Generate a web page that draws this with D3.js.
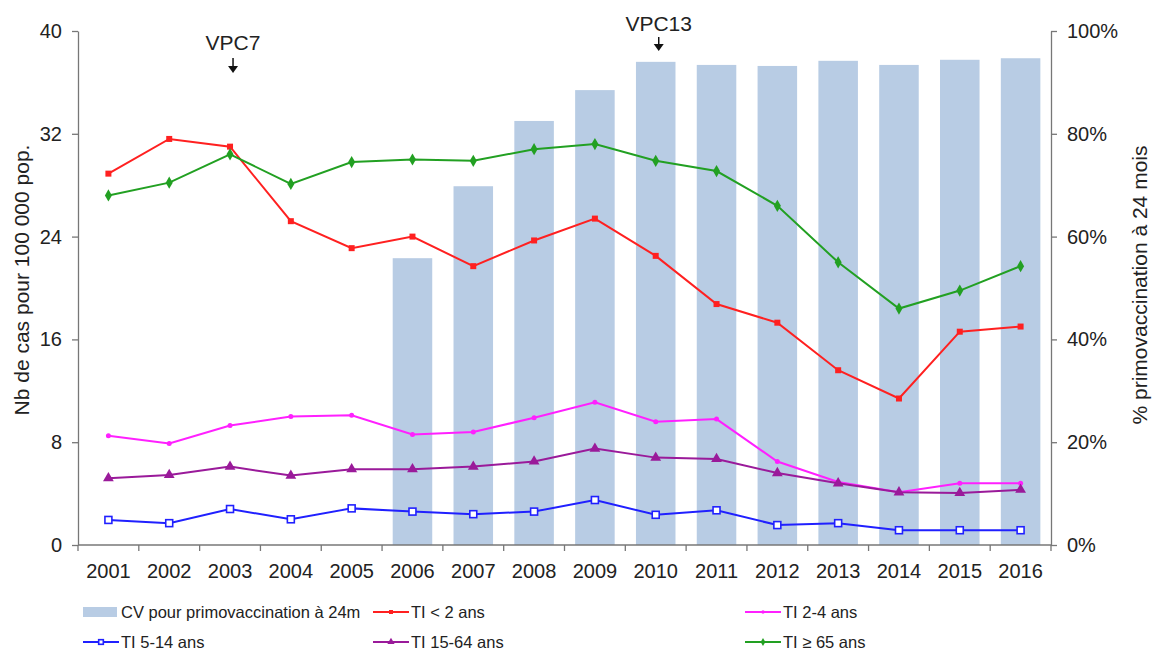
<!DOCTYPE html>
<meta charset="utf-8">
<style>
    body { margin: 0; background: #fff; }
    svg { display: block; font-family: "Liberation Sans", Arial, sans-serif; }
</style>

<script src="https://d3js.org/d3.v7.min.js"></script>

<svg id="chart" width="1156" height="650"></svg>

<script>

// Data

var years = ['2001','2002','2003','2004','2005','2006','2007','2008',
             '2009','2010','2011','2012','2013','2014','2015','2016'];

// vaccine coverage (%), no bar before 2006
var coverage = [null, null, null, null, null, 55.8, 69.8, 82.5,
                88.5, 94.0, 93.4, 93.2, 94.2, 93.4, 94.4, 94.7];

var tiUnder2 = [28.9, 31.6, 31.0, 25.2, 23.1, 24.0, 21.7, 23.7,
                25.4, 22.5, 18.75, 17.3, 13.6, 11.4, 16.6, 17.0];
var ti2to4   = [8.5, 7.9, 9.3, 10.0, 10.1, 8.6, 8.8, 9.9,
                11.1, 9.6, 9.8, 6.5, 4.9, 4.1, 4.8, 4.8];
var ti5to14  = [1.95, 1.7, 2.8, 2.0, 2.85, 2.6, 2.4, 2.6,
                3.5, 2.35, 2.7, 1.55, 1.7, 1.15, 1.15, 1.15];
var ti15to64 = [5.2, 5.45, 6.1, 5.4, 5.9, 5.9, 6.1, 6.5,
                7.5, 6.8, 6.7, 5.6, 4.8, 4.1, 4.05, 4.3];
var ti65plus = [27.2, 28.2, 30.4, 28.1, 29.8, 30.0, 29.9, 30.8,
                31.2, 29.9, 29.1, 26.4, 22.0, 18.4, 19.8, 21.7];

var leftTicks = [0, 8, 16, 24, 32, 40];
var rightTicks = [0, 20, 40, 60, 80, 100];

var seriesList = [
    { name: 'TI < 2 ans',    values: tiUnder2, color: '#ff2020', marker: 'square'  },
    { name: 'TI 2-4 ans',    values: ti2to4,   color: '#ff20ff', marker: 'dot'     },
    { name: 'TI 5-14 ans',   values: ti5to14,  color: '#2020ff', marker: 'openbox' },
    { name: 'TI 15-64 ans',  values: ti15to64, color: '#9a1a9a', marker: 'triangle'},
    { name: 'TI \u2265 65 ans', values: ti65plus, color: '#22a022', marker: 'diamond' }
];

var annotations = [
    { label: 'VPC7',  year: '2003', textY: 50, arrowTop: 58, arrowBottom: 73 },
    { label: 'VPC13', year: '2010', textY: 31, arrowTop: 37, arrowBottom: 51 }
];


// Setup

var svg = d3.select('svg#chart');

var plotLeft = 78, plotRight = 1051, plotTop = 31, plotBottom = 545;
var textColor = '#222';
var axisColor = '#777';

var x = d3.scaleBand().domain(years).range([plotLeft, plotRight]).paddingInner(0).paddingOuter(0);
var yLeft = d3.scaleLinear().domain([0, 40]).range([plotBottom, plotTop]);
var yRight = d3.scaleLinear().domain([0, 100]).range([plotBottom, plotTop]);

var cx = function (i) { return x(years[i]) + x.bandwidth() / 2; };


// Bars

var barWidth = x.bandwidth() * 0.65;

svg.append('g')
    .selectAll('rect')
    .data(coverage.map(function (v, i) { return { v: v, i: i }; })
                  .filter(function (d) { return d.v !== null; }))
    .enter()
    .append('rect')
    .attr('x', function (d) { return cx(d.i) - barWidth / 2; })
    .attr('y', function (d) { return yRight(d.v); })
    .attr('width', barWidth)
    .attr('height', function (d) { return plotBottom - yRight(d.v); })
    .attr('fill', '#b8cce4');


// Axes

var styleAxis = function (g) {
    g.selectAll('path, line').attr('stroke', axisColor).attr('stroke-width', 1.3);
    g.selectAll('text')
        .attr('fill', textColor)
        .style('font-size', '20px')
        .style('font-family', '"Liberation Sans", Arial, sans-serif');
};

svg.append('g')
    .attr('transform', 'translate(' + plotLeft + ',0)')
    .call(d3.axisLeft(yLeft).tickValues(leftTicks).tickSizeInner(6).tickSizeOuter(0).tickPadding(10))
    .call(styleAxis);

svg.append('g')
    .attr('transform', 'translate(' + plotRight + ',0)')
    .call(d3.axisRight(yRight).tickValues(rightTicks)
          .tickFormat(function (d) { return d + '%'; })
          .tickSizeInner(6).tickSizeOuter(0).tickPadding(10))
    .call(styleAxis);

// x axis: ticks on band boundaries, labels at band centres
var xAxis = svg.append('g').attr('transform', 'translate(0,' + plotBottom + ')');
xAxis.append('line')
    .attr('x1', plotLeft).attr('x2', plotRight)
    .attr('stroke', axisColor).attr('stroke-width', 1.3);
xAxis.selectAll('line.tick')
    .data(d3.range(years.length + 1))
    .enter()
    .append('line')
    .attr('class', 'tick')
    .attr('x1', function (i) { return plotLeft + i * x.bandwidth(); })
    .attr('x2', function (i) { return plotLeft + i * x.bandwidth(); })
    .attr('y1', 0).attr('y2', 6)
    .attr('stroke', axisColor).attr('stroke-width', 1.3);
xAxis.selectAll('text')
    .data(years)
    .enter()
    .append('text')
    .attr('x', function (d, i) { return cx(i); })
    .attr('y', 33)
    .attr('text-anchor', 'middle')
    .attr('fill', textColor)
    .style('font-size', '20px')
    .text(function (d) { return d; });


// Axis titles

svg.append('text')
    .attr('transform', 'translate(29,280) rotate(-90)')
    .attr('text-anchor', 'middle')
    .attr('fill', textColor)
    .style('font-size', '21px')
    .text('Nb de cas pour 100 000  pop.');

svg.append('text')
    .attr('transform', 'translate(1147,285) rotate(-90)')
    .attr('text-anchor', 'middle')
    .attr('fill', textColor)
    .style('font-size', '21px')
    .text('% primovaccination à 24 mois');


// Markers

var drawMarker = function (sel, kind, color, size) {
    if (kind === 'square') {
        sel.append('rect').attr('x', -size / 2).attr('y', -size / 2)
            .attr('width', size).attr('height', size).attr('fill', color);
    } else if (kind === 'dot') {
        sel.append('circle').attr('r', size / 2.4).attr('fill', color);
    } else if (kind === 'openbox') {
        sel.append('rect').attr('x', -size * 0.58).attr('y', -size * 0.58)
            .attr('width', size * 1.16).attr('height', size * 1.16)
            .attr('fill', '#fff').attr('stroke', color).attr('stroke-width', 1.6);
    } else if (kind === 'triangle') {
        sel.append('path').attr('d', d3.symbol(d3.symbolTriangle, size * size * 1.4)).attr('fill', color);
    } else if (kind === 'diamond') {
        sel.append('path').attr('d', d3.symbol(d3.symbolDiamond, size * size * 1.2)).attr('fill', color);
    }
};


// Lines

var line = d3.line()
    .x(function (d, i) { return cx(i); })
    .y(function (d) { return yLeft(d); });

seriesList.forEach(function (s) {
    var g = svg.append('g');
    g.append('path')
        .attr('d', line(s.values))
        .attr('fill', 'none')
        .attr('stroke', s.color)
        .attr('stroke-width', 2);
    g.selectAll('g.pt')
        .data(s.values)
        .enter()
        .append('g')
        .attr('class', 'pt')
        .attr('transform', function (d, i) { return 'translate(' + cx(i) + ',' + yLeft(d) + ')'; })
        .each(function () { drawMarker(d3.select(this), s.marker, s.color, 6); });
});


// Annotations

annotations.forEach(function (a) {
    var ax = x(a.year) + x.bandwidth() / 2 + 3;
    svg.append('text')
        .attr('x', ax).attr('y', a.textY)
        .attr('text-anchor', 'middle')
        .attr('fill', textColor)
        .style('font-size', '21px')
        .text(a.label);
    svg.append('line')
        .attr('x1', ax).attr('x2', ax)
        .attr('y1', a.arrowTop).attr('y2', a.arrowBottom - 5)
        .attr('stroke', '#111').attr('stroke-width', 1.5);
    svg.append('path')
        .attr('d', 'M' + (ax - 5) + ',' + (a.arrowBottom - 7) + ' L' + (ax + 5) + ',' + (a.arrowBottom - 7)
                  + ' L' + ax + ',' + a.arrowBottom + ' Z')
        .attr('fill', '#111');
});


// Legend

var legendItems = [
    { name: 'CV pour primovaccination à 24m', type: 'bar', color: '#b8cce4', col: 0, row: 0 },
    { name: seriesList[0].name, s: seriesList[0], col: 1, row: 0 },
    { name: seriesList[1].name, s: seriesList[1], col: 2, row: 0 },
    { name: seriesList[2].name, s: seriesList[2], col: 0, row: 1 },
    { name: seriesList[3].name, s: seriesList[3], col: 1, row: 1 },
    { name: seriesList[4].name, s: seriesList[4], col: 2, row: 1 }
];
var colX = [83, 373, 745];
var rowY = [612, 642];

legendItems.forEach(function (item) {
    var g = svg.append('g')
        .attr('transform', 'translate(' + colX[item.col] + ',' + rowY[item.row] + ')');
    if (item.type === 'bar') {
        g.append('rect').attr('x', 0).attr('y', -5).attr('width', 34).attr('height', 10)
            .attr('fill', item.color);
    } else {
        g.append('line').attr('x1', 0).attr('x2', 36).attr('y1', 0).attr('y2', 0)
            .attr('stroke', item.s.color).attr('stroke-width', 2);
        var m = g.append('g').attr('transform', 'translate(18,0)');
        drawMarker(m, item.s.marker, item.s.color, 4);
    }
    g.append('text')
        .attr('x', 38).attr('y', 6)
        .attr('fill', textColor)
        .style('font-size', '16.5px')
        .text(item.name);
});

</script>
